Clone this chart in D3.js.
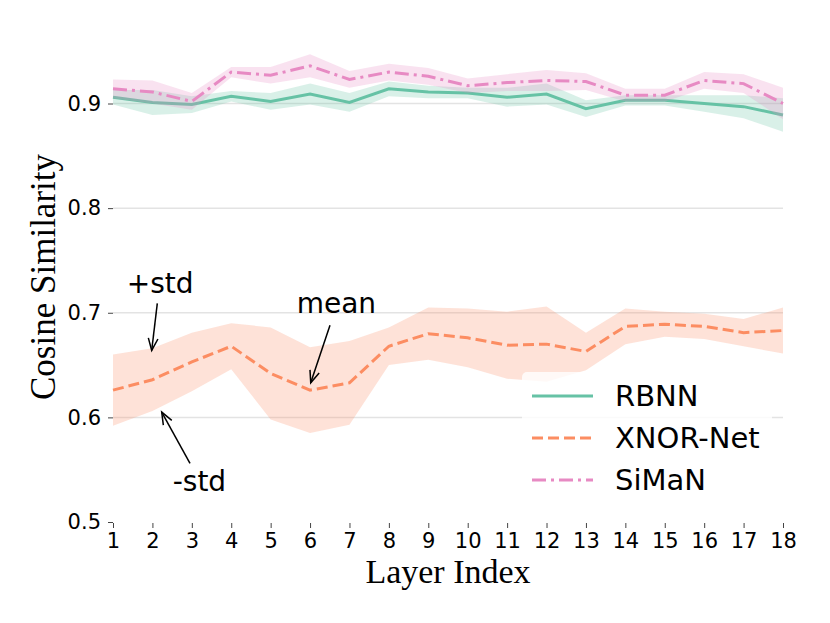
<!DOCTYPE html>
<html>
<head>
<meta charset="utf-8">
<script src="https://cdn.jsdelivr.net/npm/d3@7"></script>
<style>
  body { margin: 0; background: #fff; }
  text { font-family: "DejaVu Sans", sans-serif; }
</style>
</head>
<body>
<svg id="chart"></svg>
<script>
// layer indices and per-layer cosine similarity (mean, std)
const layers = [1, 2, 3, 4, 5, 6, 7, 8, 9, 10, 11, 12, 13, 14, 15, 16, 17, 18];

const rbnnMean = [0.906, 0.901, 0.899, 0.907, 0.902, 0.909, 0.901, 0.914, 0.911, 0.910, 0.906, 0.909, 0.895, 0.903, 0.903, 0.900, 0.897, 0.889];
const rbnnStd  = [0.007, 0.012, 0.008, 0.005, 0.008, 0.010, 0.009, 0.007, 0.006, 0.005, 0.009, 0.010, 0.008, 0.005, 0.005, 0.008, 0.011, 0.016];

const xnorMean = [0.626, 0.636, 0.653, 0.668, 0.642, 0.626, 0.633, 0.668, 0.680, 0.676, 0.669, 0.670, 0.663, 0.687, 0.689, 0.687, 0.681, 0.683];
const xnorStd  = [0.034, 0.030, 0.028, 0.022, 0.044, 0.041, 0.040, 0.018, 0.025, 0.028, 0.032, 0.036, 0.018, 0.017, 0.012, 0.012, 0.013, 0.022];

const simanMean = [0.914, 0.911, 0.902, 0.930, 0.927, 0.936, 0.923, 0.930, 0.926, 0.917, 0.920, 0.922, 0.921, 0.908, 0.908, 0.922, 0.919, 0.900];
const simanStd  = [0.009, 0.011, 0.008, 0.005, 0.008, 0.011, 0.008, 0.008, 0.008, 0.007, 0.008, 0.010, 0.008, 0.006, 0.006, 0.008, 0.009, 0.015];

const yTicks = [0.5, 0.6, 0.7, 0.8, 0.9];
const seriesNames = ["RBNN", "XNOR-Net", "SiMaN"];

// annotations in data coordinates: text anchor, arrow tail, arrow tip
const notes = [
    {label: "+std", text: [1.35, 0.719],  tail: [2.124, 0.709], tip: [1.982, 0.664]},
    {label: "mean", text: [5.66, 0.700],  tail: [6.506, 0.688], tip: [6.017, 0.633]},
    {label: "-std", text: [2.515, 0.530], tail: [2.954, 0.556], tip: [2.236, 0.605]}
];

const W = 830, H = 623;
const svg = d3.select("#chart").attr("width", W).attr("height", H);

const x = d3.scaleLinear().domain([1, 18]).range([113, 783]);
const y = d3.scaleLinear().domain([0.5, 0.9]).range([522, 103.5]);

// grid
svg.append("g")
    .selectAll("line")
    .data(yTicks.filter(d => d > 0.5))
    .join("line")
        .attr("x1", x(1)).attr("x2", x(18))
        .attr("y1", d => y(d)).attr("y2", d => y(d))
        .attr("stroke", "#e3e3e3")
        .attr("stroke-width", 1.5);

// y axis
const yAxis = svg.append("g")
    .attr("transform", "translate(" + x(1) + ",0)")
    .call(d3.axisLeft(y).tickValues(yTicks).tickSize(5).tickPadding(7).tickFormat(d3.format(".1f")));
yAxis.select(".domain").remove();
yAxis.selectAll(".tick line").attr("stroke", "#444");
yAxis.selectAll("text").style("font-size", "21px").style("font-family", "'DejaVu Sans'").attr("fill", "#000");

// x axis
const xAxis = svg.append("g")
    .attr("transform", "translate(0," + (y(0.5) + 1) + ")")
    .call(d3.axisBottom(x).tickValues(layers).tickSize(5).tickPadding(5).tickFormat(d3.format("d")));
xAxis.select(".domain").remove();
xAxis.selectAll(".tick line").attr("stroke", "#444");
xAxis.selectAll("text").style("font-size", "21px").style("font-family", "'DejaVu Sans'").attr("fill", "#000");

// axis titles
svg.append("text")
    .attr("x", 448).attr("y", 583)
    .attr("text-anchor", "middle")
    .style("font-family", "'Liberation Serif', 'Times New Roman', serif")
    .style("font-size", "34px")
    .text("Layer Index");

svg.append("text")
    .attr("text-anchor", "middle")
    .attr("transform", "translate(55,277) rotate(-90)")
    .style("font-family", "'Liberation Serif', 'Times New Roman', serif")
    .style("font-size", "35px")
    .text("Cosine Similarity");

function plotSeries(mean, std, color, dash) {
    const rows = layers.map((l, i) => ({l: l, m: mean[i], s: std[i]}));
    const band = d3.area()
        .x(d => x(d.l))
        .y0(d => y(d.m - d.s))
        .y1(d => y(d.m + d.s));
    const line = d3.line()
        .x(d => x(d.l))
        .y(d => y(d.m));
    svg.append("path")
        .datum(rows)
        .attr("d", band)
        .attr("fill", color)
        .attr("fill-opacity", 0.25)
        .attr("stroke", "none");
    svg.append("path")
        .datum(rows)
        .attr("d", line)
        .attr("fill", "none")
        .attr("stroke", color)
        .attr("stroke-width", 3)
        .attr("stroke-dasharray", dash);
}

const colors = ["#66c2a5", "#fc8d62", "#e78ac3"];
const dashes = ["none", "11,5", "14,5,3,5"];

plotSeries(rbnnMean, rbnnStd, colors[0], dashes[0]);
plotSeries(xnorMean, xnorStd, colors[1], dashes[1]);
plotSeries(simanMean, simanStd, colors[2], dashes[2]);

// annotations with open arrowheads
notes.forEach(n => {
    svg.append("text")
        .attr("x", x(n.text[0])).attr("y", y(n.text[1]))
        .style("font-size", "28px")
        .text(n.label);
    const x0 = x(n.tail[0]), y0 = y(n.tail[1]);
    const x1 = x(n.tip[0]), y1 = y(n.tip[1]);
    svg.append("line")
        .attr("x1", x0).attr("y1", y0).attr("x2", x1).attr("y2", y1)
        .attr("stroke", "#000").attr("stroke-width", 1.5);
    const ang = Math.atan2(y1 - y0, x1 - x0);
    const len = 13, spread = 0.38;
    const head = [
        [x1 - len * Math.cos(ang - spread), y1 - len * Math.sin(ang - spread)],
        [x1, y1],
        [x1 - len * Math.cos(ang + spread), y1 - len * Math.sin(ang + spread)]
    ];
    svg.append("path")
        .attr("d", d3.line()(head))
        .attr("fill", "none")
        .attr("stroke", "#000")
        .attr("stroke-width", 1.5);
});

// legend
const legend = svg.append("g").attr("transform", "translate(522,372)");
legend.append("rect")
    .attr("width", 250).attr("height", 130)
    .attr("rx", 5)
    .attr("fill", "#fff")
    .attr("fill-opacity", 0.8);
seriesNames.forEach((name, i) => {
    const cy = 24 + i * 42;
    legend.append("line")
        .attr("x1", 10).attr("x2", 71)
        .attr("y1", cy).attr("y2", cy)
        .attr("stroke", colors[i])
        .attr("stroke-width", 3)
        .attr("stroke-dasharray", dashes[i]);
    legend.append("text")
        .attr("x", 93).attr("y", cy + 10)
        .style("font-size", "29px")
        .text(name);
});
</script>
</body>
</html>
